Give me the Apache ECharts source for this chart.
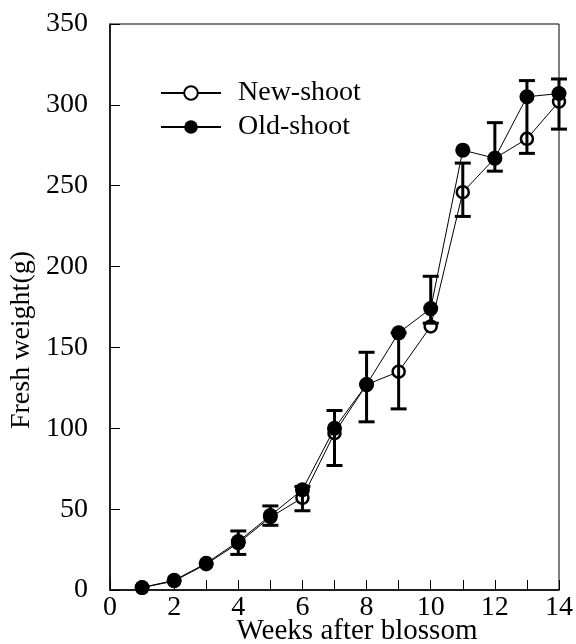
<!DOCTYPE html>
<html>
<head>
<meta charset="utf-8">
<script src="https://cdn.jsdelivr.net/npm/echarts@6/dist/echarts.min.js"></script>
<style>
  html, body { margin: 0; padding: 0; background: #fff; }
  #chart { width: 576px; height: 644px; }
</style>
</head>
<body>
<div id="chart"></div>
<script>
// Fresh weight of fruit over the weeks after blossom
const weeks = [1, 2, 3, 4, 5, 6, 7, 8, 9, 10, 11, 12, 13, 14];
const newShoot = [1.5, 5.5, 16, 29, 45, 57, 97, 127, 135, 163, 246, 267, 279, 302];
const oldShoot = [1.5, 6, 16.5, 30, 46, 62, 100, 127, 159, 174, 272, 267, 305, 307];
// Error bar extents (g); null where no bar is drawn
const errLow  = [null, null, null, 22, 40, 49, 77, 104, 112, 165, 231, 259, 270, 285];
const errHigh = [null, null, null, 36.5, 52, 64, 111, 147, 159, 194, 264, 289, 315, 316];
const xTicks = [0, 2, 4, 6, 8, 10, 12, 14];
const yTicks = [0, 50, 100, 150, 200, 250, 300, 350];

const FONT = "'Liberation Serif', 'Times New Roman', serif";

const chart = echarts.init(document.getElementById('chart'), null, { renderer: 'canvas' });

const errData = weeks
  .map((w, i) => [w, errLow[i], errHigh[i]])
  .filter(d => d[1] != null);

chart.setOption({
  animation: false,
  backgroundColor: '#fff',
  grid: {
    left: 110, right: 11, top: 24, bottom: 54,
    show: true, borderColor: '#000', borderWidth: 1
  },
  legend: {
    orient: 'vertical',
    left: 160, top: 79,
    padding: 0,
    itemWidth: 60, itemHeight: 17,
    itemGap: 6,
    textStyle: { fontFamily: FONT, fontSize: 28, color: '#000', padding: [0, 0, 0, 12] },
    data: ['New-shoot', 'Old-shoot']
  },
  xAxis: {
    type: 'value',
    min: xTicks[0], max: xTicks[xTicks.length - 1], interval: 2,
    axisLine: { show: true, lineStyle: { color: '#000', width: 1.5 } },
    axisTick: { show: true, inside: true, length: 10, lineStyle: { color: '#000', width: 1 } },
    minorTick: { show: true, splitNumber: 2, length: 10, lineStyle: { color: '#000', width: 1 } },
    axisLabel: { fontFamily: FONT, fontSize: 28, color: '#000', margin: 4 },
    splitLine: { show: false }
  },
  yAxis: {
    type: 'value',
    min: yTicks[0], max: yTicks[yTicks.length - 1], interval: 50,
    axisLine: { show: true, lineStyle: { color: '#000', width: 1.5 } },
    axisTick: { show: true, inside: true, length: 10, lineStyle: { color: '#000', width: 1 } },
    axisLabel: { fontFamily: FONT, fontSize: 28, color: '#000', margin: 22 },
    splitLine: { show: false }
  },
  graphic: [
    {
      type: 'text',
      x: 22, y: 340,
      rotation: Math.PI / 2,
      style: {
        text: 'Fresh weight(g)',
        font: '28px ' + FONT,
        fill: '#000',
        align: 'center',
        verticalAlign: 'middle'
      }
    },
    {
      type: 'text',
      x: 357, y: 631,
      style: {
        text: 'Weeks after blossom',
        font: '29px ' + FONT,
        fill: '#000',
        align: 'center',
        verticalAlign: 'middle'
      }
    }
  ],
  series: [
    {
      name: 'New-shoot',
      type: 'line',
      z: 2,
      data: weeks.map((w, i) => [w, newShoot[i]]),
      symbol: 'circle',
      symbolSize: 12,
      itemStyle: { color: '#fff', borderColor: '#000', borderWidth: 2.5 },
      lineStyle: { color: '#000', width: 1 }
    },
    {
      name: 'error',
      type: 'custom',
      z: 3,
      data: errData,
      renderItem: function (params, api) {
        const x = api.value(0);
        const lo = api.coord([x, api.value(1)]);
        const hi = api.coord([x, api.value(2)]);
        const hw = 8;
        const style = { stroke: '#000', lineWidth: 3, fill: null };
        return {
          type: 'group',
          children: [
            { type: 'line', shape: { x1: lo[0], y1: lo[1], x2: hi[0], y2: hi[1] }, style: style },
            { type: 'line', shape: { x1: lo[0] - hw, y1: lo[1], x2: lo[0] + hw, y2: lo[1] }, style: style },
            { type: 'line', shape: { x1: hi[0] - hw, y1: hi[1], x2: hi[0] + hw, y2: hi[1] }, style: style }
          ]
        };
      }
    },
    {
      name: 'Old-shoot',
      type: 'line',
      z: 4,
      data: weeks.map((w, i) => [w, oldShoot[i]]),
      symbol: 'circle',
      symbolSize: 15,
      itemStyle: { color: '#000', borderColor: '#000', borderWidth: 0 },
      lineStyle: { color: '#000', width: 1 }
    }
  ]
});
</script>
</body>
</html>
